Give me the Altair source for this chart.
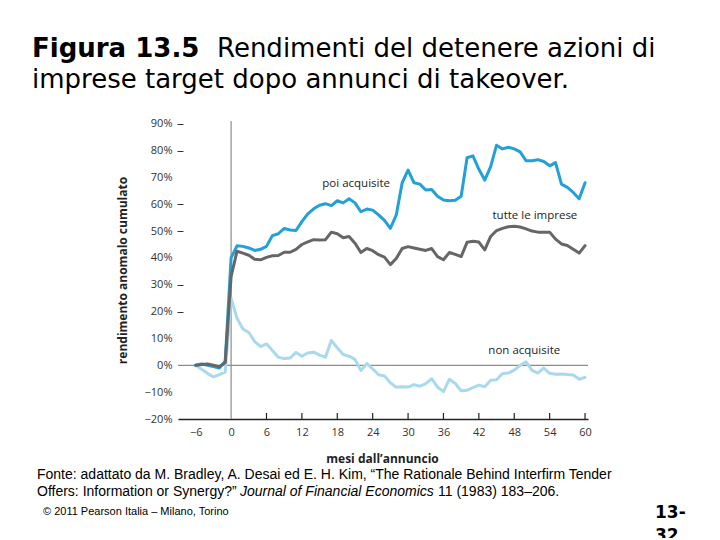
import altair as alt
import pandas as pd

# ---------------- data ----------------
months = list(range(-6, 61))

poi_acquisite = [
    0, 0.5, 0, -0.5, -1, 1.5,
    40, 44.5, 44.3, 43.7, 42.8, 43.2, 44.3, 48.3, 49, 51,
    50.4, 50.2, 53.5, 56.4, 58.3, 59.6, 60.2, 59.5, 61.3, 60.5,
    62, 60.5, 57.2, 58.2, 57.8, 56, 54, 51, 56, 68,
    72.7, 68, 67.5, 65.3, 65.5, 63, 61.6, 61.3, 61.5, 63,
    77.3, 78, 73, 69, 74, 82, 80.6, 81.2, 80.6, 79.5,
    76.2, 76.2, 76.6, 75.9, 74.3, 75.5, 67.5, 66.3, 64.4, 62,
    68,
]
tutte_le_imprese = [
    0, 0.3, 0.5, 0, -0.5, 1,
    33, 42.5, 41.8, 41, 39.5, 39.3, 40.2, 40.8, 40.9, 42.1,
    42.1, 43.2, 45, 46, 46.8, 46.7, 46.8, 49.6, 49, 47.5,
    48, 45.5, 42, 43.5, 42.7, 41.2, 40.3, 37.5, 39.8, 43.5,
    44.2, 43.7, 43.2, 42.8, 43.5, 40.5, 39.3, 42, 41.3, 40.5,
    45.8, 46.2, 45.9, 43, 48, 50.2, 51, 51.6, 51.8, 51.5,
    50.8, 50, 49.6, 49.6, 49.6, 47, 45.2, 44.6, 43.2, 41.8,
    44.6,
]
non_acquisite = [
    0, -1.5, -3, -4.3, -3.5, -2.5,
    25, 17.5, 13.5, 12.2, 8.8, 7, 8, 5.5, 3, 2.5,
    2.7, 4.8, 3.4, 4.6, 4.9, 3.8, 3, 9.3, 6.5, 4,
    3.4, 2.2, -1.9, 0.6, -1.3, -3.5, -4, -6.5, -8.2, -8,
    -8.1, -7.2, -7.8, -6.8, -5, -8.1, -9.8, -5.2, -6.8, -9.5,
    -9.3, -8.3, -7.4, -8, -5.6, -5.4, -3.1, -2.9, -1.8, 0,
    1.3, -1.9, -2.9, -1, -3, -3.3, -3.2, -3.4, -3.6, -5.2,
    -4.5,
]

series_names = ["non acquisite", "poi acquisite", "tutte le imprese"]
series_values = [non_acquisite, poi_acquisite, tutte_le_imprese]
series_colors = ["#a9d9ec", "#23a0d7", "#666666"]

label_x = [49.7, 21.2, 51.5]
label_y = [5.2, 67.7, 55.8]

x_ticks = list(range(-6, 61, 6))
x_inner_ticks = list(range(6, 61, 6))
y_ticks = list(range(-20, 91, 10))

rows = []
for name, vals in zip(series_names, series_values):
    for m, v in zip(months, vals):
        rows.append({"mese": m, "valore": v, "serie": name})
df = pd.DataFrame(rows)

labels_df = pd.DataFrame({"mese": label_x, "valore": label_y, "serie": series_names})

# ---------------- layout ----------------
W, H = 410, 298
X0, Y0 = 178, 121  # page position of the plot origin (8px margin + padding)

xscale = alt.Scale(domain=[-9, 60.5], nice=False, zero=False)
yscale = alt.Scale(domain=[-20, 91], nice=False, zero=False)

xaxis = alt.Axis(
    values=x_ticks,
    labelExpr="replace(format(datum.value, 'd'), '-', '\u2212')",
    domain=True, domainColor="#222222", domainWidth=1.5,
    ticks=False, grid=False, labelPadding=7,
    labelFont="Open Sans", labelFontSize=11, labelColor="#333333",
    title="mesi dall\u2019annuncio", titleFont="Open Sans", titleFontWeight="bold",
    titleFontSize=12, titleColor="#222222",
    titleX=204, titleY=39, titleAlign="center", titleBaseline="middle",
)
yaxis = alt.Axis(
    values=y_ticks,
    labelExpr="replace(format(datum.value, 'd'), '-', '\u2212') + '%'",
    domain=False, grid=False, ticks=True, tickSize=6, offset=-5, labelPadding=5,
    tickColor={"condition": {"test": "indexof([20, 30, 50, 60, 80, 90], datum.value) >= 0",
                             "value": "#333333"}, "value": "transparent"},
    labelFont="Open Sans", labelFontSize=11, labelColor="#333333",
    title="rendimento anomalo cumulato", titleFont="Open Sans", titleFontWeight="bold",
    titleFontSize=12, titleColor="#222222",
    titleX=-61, titleY=149, titleAngle=-90, titleAlign="center", titleBaseline="middle",
)

X = lambda f: alt.X(f, scale=xscale, axis=xaxis)
Y = lambda f: alt.Y(f, scale=yscale, axis=yaxis)

ref_df = pd.DataFrame({"mese": [0], "valore": [0]})
hline = alt.Chart(ref_df).mark_rule(color="#8c8c8c", strokeWidth=1.2).encode(y=Y("valore:Q"))
vline = alt.Chart(ref_df).mark_rule(color="#8c8c8c", strokeWidth=1.2).encode(x=X("mese:Q"))

tick_df = pd.DataFrame({"mese": x_inner_ticks})
tick_rules = alt.Chart(tick_df).mark_rule(color="#222222", strokeWidth=1.2).encode(
    x=X("mese:Q"), y=alt.value(H), y2=alt.value(H - 6)
)

line_layers = []
for name, color in zip(series_names, series_colors):
    line_layers.append(
        alt.Chart(df).transform_filter(alt.datum.serie == name)
        .mark_line(color=color, strokeWidth=3, strokeJoin="round", strokeCap="round")
        .encode(x=X("mese:Q"), y=Y("valore:Q"))
    )

line_labels = alt.Chart(labels_df).mark_text(
    font="Open Sans", fontSize=11.5, color="#222222"
).encode(x=X("mese:Q"), y=Y("valore:Q"), text="serie:N")


def page_text(text, px, py, font, size, weight="normal", style="normal", color="#000000"):
    return alt.Chart(pd.DataFrame({"t": [text]})).mark_text(
        align="left", baseline="alphabetic", font=font, fontSize=size,
        fontWeight=weight, fontStyle=style, color=color,
    ).encode(text="t:N", x=alt.value(px - X0), y=alt.value(py - Y0))


texts = [
    page_text("Figura 13.5", 32, 57, "DejaVu Sans", 26, weight="bold"),
    page_text("Rendimenti del detenere azioni di", 217, 57, "DejaVu Sans", 26),
    page_text("imprese target dopo annunci di takeover.", 32, 88, "DejaVu Sans", 26),
    page_text("Fonte: adattato da M. Bradley, A. Desai ed E. H. Kim, \u201cThe Rationale Behind Interfirm Tender",
              37, 479, "Liberation Sans", 14),
    page_text("Offers: Information or Synergy?\u201d", 37, 496, "Liberation Sans", 14),
    page_text("Journal of Financial Economics", 240, 496, "Liberation Sans", 14, style="italic"),
    page_text("11 (1983) 183\u2013206.", 438, 496, "Liberation Sans", 14),
    page_text("\u00a9 2011 Pearson Italia \u2013 Milano, Torino", 43, 515, "Liberation Sans", 11),
    page_text("13-", 655, 518, "DejaVu Sans", 17, weight="bold"),
    page_text("32", 655, 541, "DejaVu Sans", 17, weight="bold"),
]

chart = alt.layer(
    hline, vline, tick_rules, *line_layers, line_labels, *texts
).properties(
    width=W, height=H,
    autosize=alt.AutoSizeParams(type="none"),
    padding={"left": 170, "top": 113, "right": 124, "bottom": 119},
    background="white",
).configure_view(stroke=None)

chart.save("out.html", embed_options={"renderer": "svg", "actions": False})
